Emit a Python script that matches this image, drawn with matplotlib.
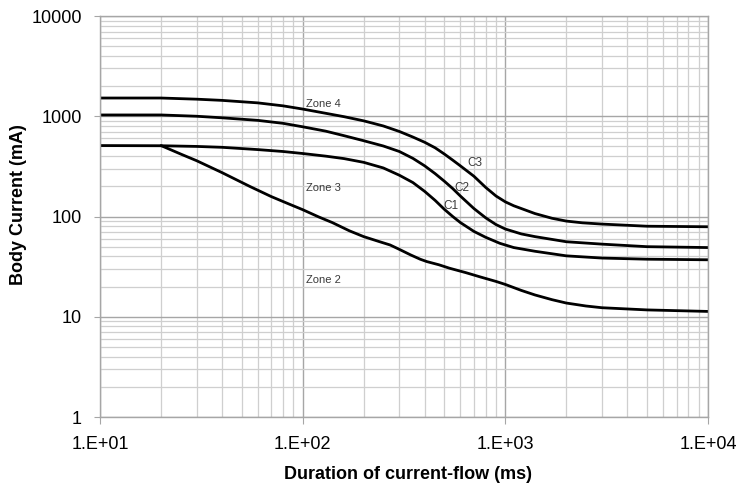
import matplotlib
matplotlib.use("Agg")
import matplotlib.pyplot as plt
from matplotlib.ticker import FixedLocator, FixedFormatter, LogLocator, NullFormatter

plt.rcParams['font.family'] = ['Liberation Sans', 'DejaVu Sans']

# Duration of current flow (ms) and body current (mA) for each boundary curve
c1_ms = [10, 20, 30, 40, 60, 80, 100, 130, 160, 200, 250, 300, 350, 400, 450, 500, 550, 600,
         700, 800, 940, 1100, 1400, 2000, 3000, 5000, 10000]
c1_ma = [510, 508, 500, 490, 465, 445, 425, 400, 378, 347, 305, 258, 218, 178, 145, 118, 100, 87,
         71, 62, 54, 49, 45, 40.5, 38.5, 37.5, 37]

c2_ms = [10, 20, 30, 40, 60, 80, 100, 130, 160, 200, 250, 300, 350, 400, 450, 500, 550, 600,
         700, 800, 900, 1000, 1200, 1400, 2000, 3000, 5000, 10000]
c2_ma = [1030, 1030, 1000, 965, 910, 850, 785, 710, 640, 570, 505, 445, 380, 320, 268, 225, 190, 160,
         120, 97, 83, 75, 67, 63, 56, 53, 50, 49]

c3_ms = [10, 20, 30, 40, 60, 80, 100, 130, 160, 200, 250, 300, 350, 400, 450, 500, 550, 600,
         700, 800, 900, 1000, 1100, 1200, 1400, 1700, 2000, 2400, 3000, 5000, 10000]
c3_ma = [1520, 1520, 1480, 1440, 1360, 1270, 1180, 1070, 990, 900, 800, 705, 620, 550, 485, 420, 365, 320,
         252, 195, 160, 140, 128, 120, 107, 96, 90, 86.5, 84, 80, 79]

b_ms = [20, 25, 30, 40, 55, 70, 85, 100, 120, 140, 170, 200, 240, 270, 300, 340, 380, 410, 470,
        530, 640, 750, 900, 1000, 1200, 1400, 1700, 2000, 2500, 3000, 5000, 10000]
b_ma = [510, 420, 360, 274, 199, 158, 134, 117, 99, 87, 72, 63, 56, 52, 47, 41.5, 37.5, 35.5, 33,
        30.5, 27.5, 25, 22.5, 21, 18.3, 16.5, 14.8, 13.7, 12.8, 12.3, 11.7, 11.3]

x_ticks = [10, 100, 1000, 10000]
x_tick_labels = ["1.E+01", "1.E+02", "1.E+03", "1.E+04"]
y_ticks = [1, 10, 100, 1000, 10000]
y_tick_labels = ["1", "10", "100", "1000", "10000"]

# (text, x, y) for in-plot annotations
zone_labels = [("Zone 4", 104, 1330), ("Zone 3", 104, 193), ("Zone 2", 104, 23.3)]
curve_labels = [("C3", 650, 341), ("C2", 562, 192), ("C1", 496, 126)]

fig = plt.figure(figsize=(7.4, 4.86), dpi=100)
ax = fig.add_axes([100 / 740, 69 / 486, 608 / 740, 401 / 486])

ax.set_xscale('log')
ax.set_yscale('log')
ax.set_xlim(10, 10000)
ax.set_ylim(1, 10000)

major_grid = '#a6a6a6'
minor_grid = '#cfcfcf'
ax.xaxis.set_major_locator(FixedLocator(x_ticks))
ax.xaxis.set_major_formatter(FixedFormatter(x_tick_labels))
ax.yaxis.set_major_locator(FixedLocator(y_ticks))
ax.yaxis.set_major_formatter(FixedFormatter(y_tick_labels))
for axis in (ax.xaxis, ax.yaxis):
    axis.set_minor_locator(LogLocator(base=10, subs=range(2, 10)))
    axis.set_minor_formatter(NullFormatter())

ax.grid(which='minor', color=minor_grid, linewidth=0.9)
ax.grid(which='major', color=major_grid, linewidth=1.0)
ax.set_axisbelow(True)

ax.tick_params(which='major', axis='x', length=5, color=major_grid, labelsize=13, pad=9)
ax.tick_params(which='major', axis='y', length=4, color=major_grid, labelsize=13, pad=9)
ax.tick_params(which='minor', length=0)
for s in ax.spines.values():
    s.set_color(major_grid)
    s.set_linewidth(1.0)

for xs, ys in [(c1_ms, c1_ma), (c2_ms, c2_ma), (c3_ms, c3_ma), (b_ms, b_ma)]:
    ax.plot(xs, ys, color='black', linewidth=2.0, solid_joinstyle='round', solid_capstyle='round')

for txt, x, y in zone_labels:
    ax.text(x, y, txt, fontsize=8, color='#3a3a3a', ha='left', va='center')
for txt, x, y in curve_labels:
    ax.text(x, y, txt, fontsize=8.5, color='#3a3a3a', ha='left', va='center')

ax.set_xlabel("Duration of current-flow (ms)", fontsize=13, fontweight='bold')
ax.set_ylabel("Body Current (mA)", fontsize=13, fontweight='bold')
ax.xaxis.set_label_coords(0.507, -0.122)
ax.yaxis.set_label_coords(-0.12, 0.53)

fig.savefig("out.png", dpi=100, facecolor='white')
